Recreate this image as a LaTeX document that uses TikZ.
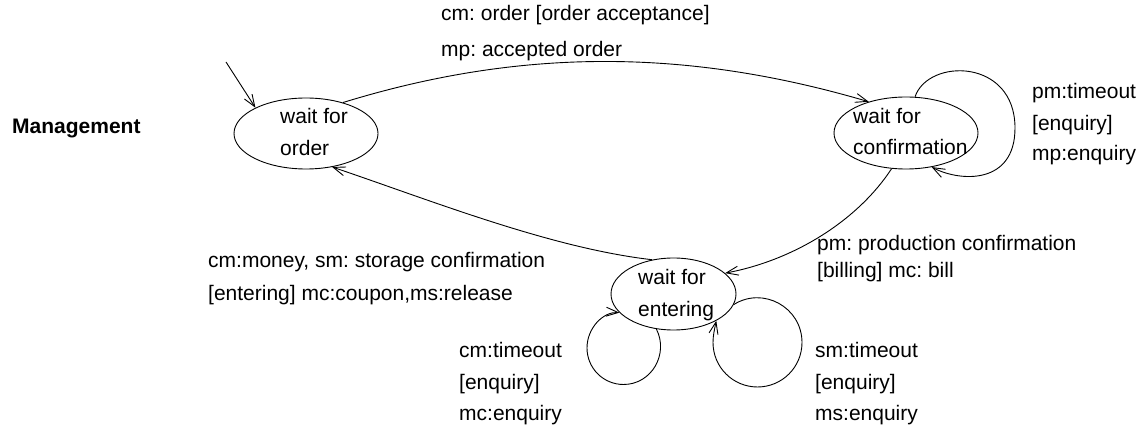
\documentclass[tikz,border=0pt]{standalone}
\usepackage{fontspec}
\setmainfont{Liberation Sans}
\usetikzlibrary{arrows.meta,shapes.geometric}
\frenchspacing
\begin{document}
\begin{tikzpicture}[x=1pt,y=-1pt,
  every node/.style={font=\fontsize{21}{25}\selectfont},
  state/.style={draw,ellipse,inner sep=0pt,line width=0.9pt},
  lbl/.style={anchor=base west,inner sep=0pt},
  edge/.style={line width=0.9pt,-{Straight Barb[length=12pt,width=9pt]}},
]
\useasboundingbox[fill=white] (0,0) rectangle (1141,427);
% states
\node[state,minimum width=144pt,minimum height=71pt] (order) at (306,133.5) {};
\node[state,minimum width=144pt,minimum height=72pt] (conf) at (906,133) {};
\node[state,minimum width=125pt,minimum height=72pt] (ent) at (673.5,294) {};
% state texts
\node[lbl] (o1) at (280,123.5) {wait for};
\node[lbl] (o2) at (280,155.5) {order};
\node[lbl] (c1) at (853,123.5) {wait for};
\node[lbl] (c2) at (853,154.5) {confirmation};
\node[lbl] (e1) at (638,284.5) {wait for};
\node[lbl] (e2) at (638,316.5) {entering};
% title
\node[lbl,font=\fontsize{21}{25}\selectfont\bfseries] (mgmt) at (12,133.5) {Management};
% labels
\node[lbl] (t1) at (441,20.5) {cm: order [order acceptance]};
\node[lbl] (t2) at (441,56.5) {mp: accepted order};
\node[lbl] (r1) at (1032,98.5) {pm:timeout};
\node[lbl] (r2) at (1032,130.5) {[enquiry]};
\node[lbl] (r3) at (1032,160.5) {mp:enquiry};
\node[lbl] (p1) at (817,250.5) {pm: production confirmation};
\node[lbl] (p2) at (817,277.5) {[billing] mc: bill};
\node[lbl] (m1) at (208,267.5) {cm:money, sm: storage confirmation};
\node[lbl] (m2) at (208,301) {[entering] mc:coupon,ms:release};
\node[lbl] (bl1) at (459,357.5) {cm:timeout};
\node[lbl] (bl2) at (459,390) {[enquiry]};
\node[lbl] (bl3) at (459,420.5) {mc:enquiry};
\node[lbl] (br1) at (815,357.5) {sm:timeout};
\node[lbl] (br2) at (815,389.5) {[enquiry]};
\node[lbl] (br3) at (815,420.5) {ms:enquiry};
% initial arrow
\coordinate (init) at (226,62);
\draw[edge] (init) -- (order.153);
% transitions
\draw[edge] (order.40) .. controls (520,48) and (686,48) .. (conf.140);
\draw[edge] (conf.-112) .. controls (858,220) and (795,260) .. (ent.22);
\draw[edge] (ent.122) .. controls (550,248) and (430,200) .. (order.-52);
% self loops
\draw[edge] (conf.76) .. controls (928,58) and (1015,58) .. (1015,128)
  .. controls (1015,185) and (960,182) .. (conf.-53);
\draw[edge] (ent.-116) .. controls (669,354) and (651.6,384.5) .. (623.5,384.5)
  .. controls (603.35,384.5) and (587,368.15) .. (587,348)
  .. controls (587,327.85) and (603.35,311.5) .. (ent.-161);
\draw[edge] (ent.-10) .. controls (763,286) and (802,307.3) .. (802,342.5)
  .. controls (802,367.1) and (782.1,387) .. (757.5,387)
  .. controls (732.9,387) and (713,367.1) .. (713,342.5)
  .. controls (713,335.7) and (714.5,329.1) .. (ent.-32);
\end{tikzpicture}
\end{document}
